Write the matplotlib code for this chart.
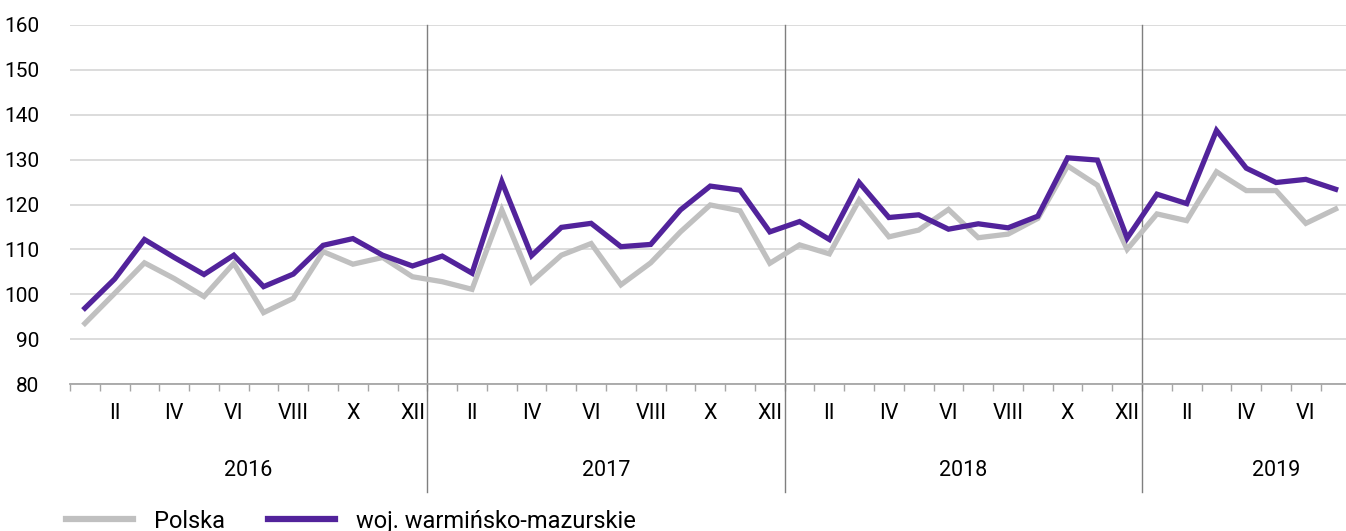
import numpy as np
import matplotlib
matplotlib.use('Agg')
import matplotlib.pyplot as plt
from matplotlib.ticker import FixedLocator
import matplotlib.transforms as mtransforms

plt.rcParams['font.family'] = ['Roboto', 'DejaVu Sans']

# monthly values, Jan 2016 - Jul 2019
polska = [93.5, 100.2, 107.0, 103.5, 99.5, 106.9, 95.9, 99.1, 109.5, 106.7, 108.2, 103.9,
          102.8, 101.1, 118.8, 102.8, 108.7, 111.3, 102.1, 107.0, 113.9, 119.9, 118.6, 106.9,
          111.0, 109.0, 121.0, 112.8, 114.3, 118.9, 112.6, 113.4, 116.9, 128.6, 124.3, 110.0,
          117.9, 116.4, 127.3, 123.1, 123.1, 115.8, 119.0]
warm_maz = [96.9, 103.4, 112.2, 108.2, 104.4, 108.7, 101.7, 104.5, 110.9, 112.4, 108.7, 106.3,
            108.5, 104.7, 125.1, 108.6, 114.9, 115.8, 110.6, 111.1, 118.8, 124.1, 123.2, 113.9,
            116.2, 112.2, 124.9, 117.1, 117.7, 114.5, 115.7, 114.8, 117.4, 130.4, 129.9, 112.5,
            122.3, 120.2, 136.5, 128.1, 124.9, 125.6, 123.4]
roman = ['I', 'II', 'III', 'IV', 'V', 'VI', 'VII', 'VIII', 'IX', 'X', 'XI', 'XII']
years = ['2016', '2017', '2018', '2019']
year_pos = [6, 18, 30, 40.5]

n = len(polska)
x = np.arange(n) + 0.5

fig = plt.figure(figsize=(13.46, 5.31), dpi=100)
ax = fig.add_axes([70 / 1346, 1 - 384 / 531, 1280.5 / 1346, 359 / 531])

ax.plot(x, polska, color='#c0c0c0', lw=3.8, solid_joinstyle='miter', label='Polska', zorder=3)
ax.plot(x, warm_maz, color='#52239b', lw=3.8, solid_joinstyle='miter',
        label='woj. warmińsko-mazurskie', zorder=4)

ax.set_xlim(0, n)
ax.set_ylim(80, 160)
ax.set_yticks(np.arange(80, 161, 10))
ax.yaxis.grid(True, color='#d9d9d9', lw=1.3)
ax.set_axisbelow(True)
ax.tick_params(axis='y', length=0, pad=22, labelsize=15)

# month labels on even months, boundary ticks at integers
lab_pos = [i + 0.5 for i in range(n) if i % 12 % 2 == 1]
lab_txt = [roman[i % 12] for i in range(n) if i % 12 % 2 == 1]
ax.set_xticks(lab_pos)
ax.set_xticklabels(lab_txt)
ax.tick_params(axis='x', which='major', length=0, pad=14, labelsize=15.5)
ax.xaxis.set_minor_locator(FixedLocator(np.arange(0, n + 1)))
ax.tick_params(axis='x', which='minor', length=5, width=1, color='#a6a6a6', direction='out')

for s in ['top', 'right', 'left']:
    ax.spines[s].set_visible(False)
ax.spines['bottom'].set_color('#a6a6a6')
ax.spines['bottom'].set_linewidth(1.3)

# year separators
for b in [12, 24, 36]:
    ax.axvline(b, ymin=-0.30, ymax=1, color='#7f7f7f', lw=1, clip_on=False, zorder=2)

trans = mtransforms.blended_transform_factory(ax.transData, ax.transAxes)
for yp, yt in zip(year_pos, years):
    ax.text(yp, -0.242, yt, transform=trans, ha='center', va='center', fontsize=15.5)

leg = ax.legend(loc='center left', bbox_to_anchor=(-0.003, -0.382), ncol=2, frameon=False,
                fontsize=17, handlelength=2.85, handletextpad=0.85, columnspacing=1.85,
                borderaxespad=0, borderpad=0)
for h in leg.get_lines():
    h.set_linewidth(4.5)

fig.savefig('out.png', dpi=100)
